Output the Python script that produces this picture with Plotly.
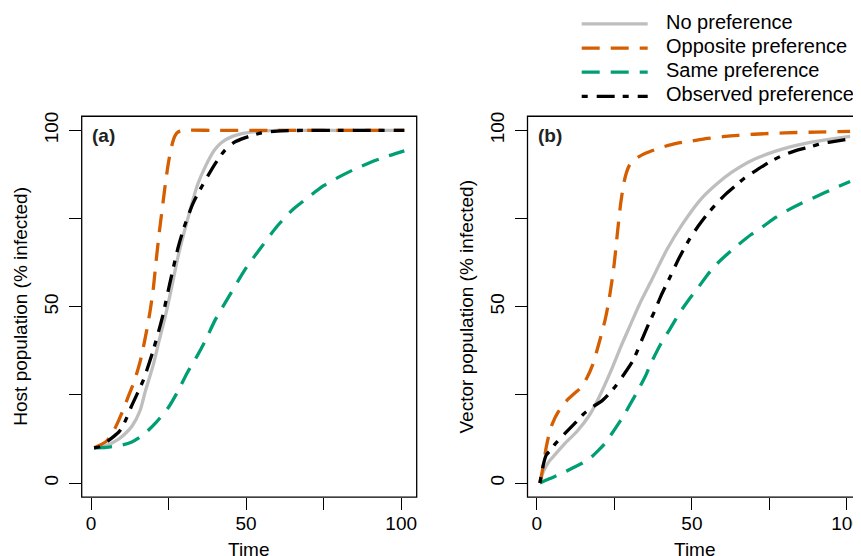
import plotly.graph_objects as go

# ---------------- data ----------------
# Panel (a): host population, % infected
host_none_t = [1, 4.5, 8.8, 11, 13.2, 15.8, 17.5, 20, 22, 24, 26, 28, 30, 32, 34.3, 37, 39.7, 42, 45.6, 50, 55, 60, 70, 80, 90, 101]
host_none_v = [10, 10.5, 12.4, 14, 16.1, 20.5, 26, 33.3, 40.5, 47.5, 55.5, 64, 71, 77.5, 84.5, 90, 94.3, 96.5, 98.3, 99.3, 99.8, 100, 100, 100, 100, 100]

host_opp_t = [1, 3, 5, 7, 8, 10, 12, 14, 16, 18, 19, 20, 21, 22, 23, 24, 25, 26, 27, 28, 30, 40, 60, 80, 101]
host_opp_v = [10, 10.8, 11.9, 14.3, 16, 20, 24.5, 29, 35, 43.5, 48.5, 54.5, 63, 71, 78, 85, 91, 95.5, 98.3, 99.5, 100, 100, 100, 100, 100]

host_same_t = [1, 5, 10, 13, 17, 21, 25, 28, 31, 34, 37, 40, 45, 50, 55, 60, 65, 70, 75, 80, 85, 90, 95, 101]
host_same_v = [10, 10.1, 10.8, 11.6, 13.8, 17.2, 21.5, 26, 31.2, 35.7, 40.6, 46.2, 53.7, 61, 67, 72.8, 77.5, 81, 84.3, 86.8, 89, 90.9, 92.5, 94.2]

host_obs_t = [1, 3, 6, 9, 11, 13, 15, 17, 20, 23, 25, 28, 30, 33, 36, 40, 43, 46, 50, 55, 60, 70, 80, 90, 101]
host_obs_v = [10, 10.3, 12.3, 14.5, 17.5, 21.7, 25.5, 29.5, 37.5, 47, 55, 66.5, 72.5, 79.5, 84.5, 90.5, 94.2, 96.5, 98, 99.3, 99.8, 100, 100, 100, 100]

# Panel (b): vector population, % infected
vec_none_t = [1, 2, 3, 4, 6, 9, 13, 17, 20, 24, 27, 30, 33, 37, 42, 47, 53, 58, 63, 68, 72, 77, 82, 87, 93, 101]
vec_none_v = [0, 3, 4.8, 6.2, 8.2, 11.2, 14.7, 19.3, 24.2, 32, 38.5, 44.5, 50.5, 57.5, 66.3, 73.5, 80.6, 84.8, 88.2, 90.9, 92.5, 94.1, 95.4, 96.4, 97.3, 98.3]

vec_opp_t = [1, 2, 3, 4, 5, 7, 10, 12, 14, 16, 18, 20, 22, 23, 24, 25, 26, 27, 28, 29, 30, 32, 35, 40, 45, 50, 55, 60, 65, 70, 80, 90, 101]
vec_opp_v = [0, 4.5, 10, 14, 16.8, 20.3, 23.7, 25.3, 26.9, 29.6, 33.5, 39.5, 46.2, 50.5, 56, 62.5, 71, 79, 84.8, 88.3, 90.3, 92, 93.5, 95.1, 96.3, 97, 97.7, 98.2, 98.6, 98.9, 99.3, 99.5, 99.7]

vec_same_t = [1, 4, 8, 12, 15, 18, 20, 22, 25, 28, 30, 32, 35, 37, 40, 43, 46, 49, 52, 55, 58, 61, 65, 69, 73, 77, 81, 85, 90, 95, 101]
vec_same_v = [0, 1.2, 2.7, 4.5, 5.8, 7.7, 9.4, 11.3, 15.1, 19.1, 22.2, 25.3, 30.3, 34.3, 39.5, 43.8, 48.2, 52, 55.4, 59, 62.1, 64.6, 67.6, 70.4, 72.8, 75.3, 77.4, 79.2, 81.2, 83.2, 85.5]

vec_obs_t = [1, 2, 3, 4.5, 6, 9, 12, 15, 18, 21, 23, 25.5, 28, 31, 34, 36, 38, 40, 43, 46, 49, 52, 55, 58, 61, 64, 67, 71, 75, 79, 83, 88, 92, 96, 101]
vec_obs_v = [0, 4.8, 7.9, 9.4, 11.2, 14, 16.7, 19.5, 21.6, 23.3, 25, 27.6, 30.7, 34.7, 40.9, 45, 48.8, 53, 58.5, 64, 68.8, 72.8, 76.3, 79.3, 82, 84.3, 86.5, 88.8, 91, 92.8, 94.1, 95.3, 96.3, 96.9, 97.6]

series_names = ["No preference", "Opposite preference", "Same preference", "Observed preference"]
tick_vals = [0, 25, 50, 75, 100]
x_tick_text = ["0", "", "50", "", "100"]
y_tick_text = ["0", "", "50", "", "100"]
panel_labels = ["(a)", "(b)"]
y_titles = ["Host population (% infected)", "Vector population (% infected)"]
x_title = "Time"

# ---------------- styling ----------------
W, H = 861, 556
OFF = 8  # page body margin: figure sits 8px from the window's top-left corner
FONT = "Liberation Sans, Arial, Helvetica, sans-serif"
colors = ["#BEBEBE", "#D55E00", "#009E73", "#000000"]
dashes = ["solid", "18px,11px", "18px,11px", "6px,9px,18px,8px"]
LW = 3.3

def px_x(p):  # window pixel -> paper fraction
    return (p - OFF) / W

def px_y(p):
    return 1 - (p - OFF) / H

# panel boxes in window pixels
A_L, A_R, TOP, BOT = 81.7, 416.7, 113.0, 496.7
B_L = 527.5
B_R = B_L + (A_R - A_L)

fig = go.Figure()

panel_a = [(host_none_t, host_none_v), (host_opp_t, host_opp_v), (host_same_t, host_same_v), (host_obs_t, host_obs_v)]
panel_b = [(vec_none_t, vec_none_v), (vec_opp_t, vec_opp_v), (vec_same_t, vec_same_v), (vec_obs_t, vec_obs_v)]

for axes, data in (("1", panel_a), ("2", panel_b)):
    for i, (t, v) in enumerate(data):
        fig.add_trace(go.Scatter(
            x=t, y=v, mode="lines", name=series_names[i], showlegend=False,
            line=dict(color=colors[i], width=LW, dash=dashes[i], shape="spline", smoothing=0.7),
            xaxis="x" if axes == "1" else "x2", yaxis="y" if axes == "1" else "y2",
        ))

axis_common = dict(
    tickvals=tick_vals, ticks="outside", ticklen=12, tickwidth=1.3, tickcolor="black",
    showline=False, showgrid=False, zeroline=False,
    tickfont=dict(family=FONT, size=19, color="black"),
)
ydom = [px_y(BOT), px_y(TOP)]
fig.update_layout(
    width=W, height=H, autosize=False,
    margin=dict(l=0, r=0, t=0, b=0),
    paper_bgcolor="white", plot_bgcolor="white",
    xaxis=dict(domain=[px_x(A_L), px_x(A_R)], range=[-3, 105], ticktext=x_tick_text, anchor="y",
               ticklabelstandoff=-3, **axis_common),
    yaxis=dict(domain=ydom, range=[-4, 104], ticktext=y_tick_text, tickangle=-90, anchor="x",
               ticklabelstandoff=3, **axis_common),
    xaxis2=dict(domain=[px_x(B_L), px_x(B_R)], range=[-3, 105], ticktext=x_tick_text, anchor="y2",
                ticklabelstandoff=-3, **axis_common),
    yaxis2=dict(domain=ydom, range=[-4, 104], ticktext=y_tick_text, tickangle=-90, anchor="x2",
                ticklabelstandoff=3, **axis_common),
    showlegend=False,
)

shapes = []
# plot boxes
for xr, yr in (("x", "y"), ("x2", "y2")):
    shapes.append(dict(type="rect", xref=xr + " domain", yref=yr + " domain", x0=0, x1=1, y0=0, y1=1,
                       line=dict(color="black", width=1.3), fillcolor="rgba(0,0,0,0)", layer="above"))

# custom legend (long line samples as in the reference)
leg_x0, leg_x1, leg_text_x = 581.7, 647.7, 664
leg_rows = [20, 44.3, 68.5, 93]
annotations = []
for i, yc in enumerate(leg_rows):
    shapes.append(dict(type="line", xref="paper", yref="paper",
                       x0=px_x(leg_x0), x1=px_x(leg_x1), y0=px_y(yc), y1=px_y(yc),
                       line=dict(color=colors[i], width=LW, dash=dashes[i])))
    annotations.append(dict(text=series_names[i], xref="paper", yref="paper",
                            x=px_x(leg_text_x), y=px_y(yc - 2), xanchor="left", yanchor="middle",
                            showarrow=False, font=dict(family=FONT, size=20, color="black")))

# panel labels
for ax, lab in (("x", panel_labels[0]), ("x2", panel_labels[1])):
    yax = "y" if ax == "x" else "y2"
    annotations.append(dict(text="<b>" + lab + "</b>", xref=ax + " domain", yref=yax + " domain",
                            x=(90.3 - A_L) / (A_R - A_L), y=(BOT - 132) / (BOT - TOP),
                            xanchor="left", yanchor="middle", showarrow=False,
                            font=dict(family=FONT, size=19, color="#222222")))

# axis titles
offset = B_L - A_L
for k in range(2):
    annotations.append(dict(text=y_titles[k], xref="paper", yref="paper",
                            x=px_x(21 + k * offset), y=px_y((TOP + BOT) / 2), textangle=-90,
                            xanchor="center", yanchor="middle", showarrow=False,
                            font=dict(family=FONT, size=19, color="black")))
    annotations.append(dict(text=x_title, xref="paper", yref="paper",
                            x=px_x((A_L + A_R) / 2 + k * offset), y=px_y(549),
                            xanchor="center", yanchor="middle", showarrow=False,
                            font=dict(family=FONT, size=19, color="black")))

fig.update_layout(shapes=shapes, annotations=annotations)
fig.write_html("out.html")
